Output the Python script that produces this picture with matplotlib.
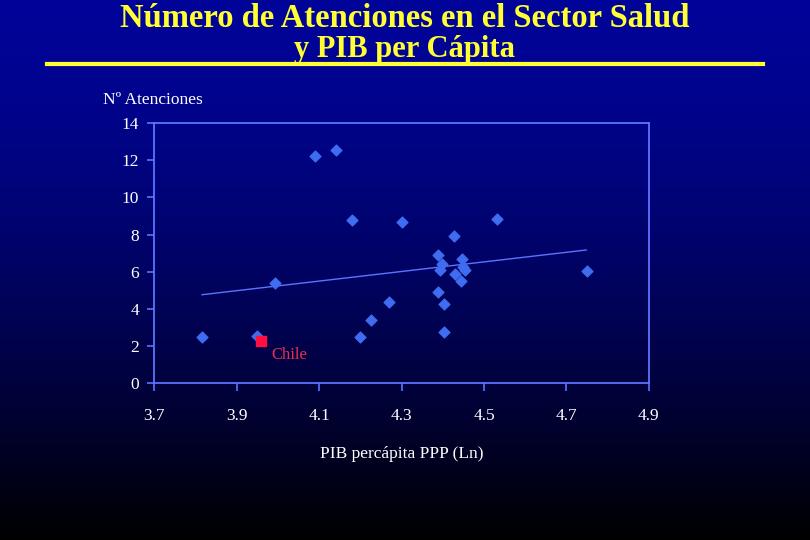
import numpy as np
import matplotlib
matplotlib.use("Agg")
import matplotlib.pyplot as plt

# PIB per capita (Ln) y numero de atenciones por pais
pib_ln = [3.815, 3.948, 3.993, 4.091, 4.140, 4.179, 4.199, 4.227, 4.270, 4.302,
          4.388, 4.399, 4.394, 4.388, 4.402, 4.402, 4.427, 4.430, 4.446, 4.444,
          4.449, 4.455, 4.531, 4.750]
atenciones = [2.50, 2.53, 5.39, 12.22, 12.56, 8.79, 2.50, 3.40, 4.35, 8.66,
              6.88, 6.40, 6.08, 4.91, 4.27, 2.77, 7.92, 5.88, 6.68, 5.51,
              6.27, 6.08, 8.86, 6.05]

chile_x = [3.959]
chile_y = [2.26]

# linea de tendencia (extremos)
trend_x = [3.816, 4.748]
trend_y = [4.76, 7.17]

x_ticks = [3.7, 3.9, 4.1, 4.3, 4.5, 4.7, 4.9]
y_ticks = [0, 2, 4, 6, 8, 10, 12, 14]

AXIS_COLOR = "#5b74ff"
POINT_COLOR = "#3f6cf0"
SERIF = ["Liberation Serif", "DejaVu Serif"]

fig = plt.figure(figsize=(8.1, 5.4), dpi=100)

# fondo degradado azul -> negro
bg = fig.add_axes([0, 0, 1, 1], zorder=-10)
t = np.linspace(0, 1, 540).reshape(-1, 1)
k = 1 - t ** 1.5
img = np.dstack([np.zeros_like(k), 4 / 255 * k, 152 / 255 * k])
bg.imshow(img, aspect="auto", extent=[0, 1, 0, 1])
bg.axis("off")

# titulo y linea amarilla
fig.text(0.5, 0.95, "Número de Atenciones en el Sector Salud", ha="center", va="baseline",
         color="#ffff33", fontsize=23.5, fontweight="bold", family=SERIF)
fig.text(0.5, 0.895, "y PIB per Cápita", ha="center", va="baseline",
         color="#ffff33", fontsize=22, fontweight="bold", family=SERIF)
fig.add_artist(plt.Line2D([0.058, 0.942], [0.882, 0.882], color="#ffff33", lw=3))

ax = fig.add_axes([0.1905, 0.2907, 0.6105, 0.481])
ax.patch.set_alpha(0)

ax.plot(trend_x, trend_y, color=AXIS_COLOR, lw=1)
ax.scatter(pib_ln, atenciones, marker="D", s=30, color=POINT_COLOR, zorder=3)
ax.scatter(chile_x, chile_y, marker="s", s=60, color="#ff1040", zorder=4)
ax.text(chile_x[0] + 0.025, chile_y[0] - 0.75, "Chile", color="#e8304a",
        fontsize=12, family=SERIF, va="center")

ax.set_xlim(3.7, 4.9)
ax.set_ylim(0, 14)
ax.set_xticks(x_ticks)
ax.set_yticks(y_ticks)
ax.set_xticklabels([f"{v:.1f}" for v in x_ticks])
ax.set_yticklabels([str(v) for v in y_ticks])

for s in ax.spines.values():
    s.set_color(AXIS_COLOR)
    s.set_linewidth(1.3)
ax.tick_params(axis="x", colors=AXIS_COLOR, labelcolor="white", direction="out",
               length=6, width=1.2, pad=12, labelsize=12.5)
ax.tick_params(axis="y", colors=AXIS_COLOR, labelcolor="white", direction="out",
               length=5, width=1.2, pad=6, labelsize=12.5)
for lab in ax.get_xticklabels() + ax.get_yticklabels():
    lab.set_family(SERIF)

ax.set_xlabel("PIB percápita PPP (Ln)", color="white", fontsize=12.5,
              family=SERIF, labelpad=16)
fig.text(0.127, 0.815, "Nº Atenciones", color="white", fontsize=12.5,
         family=SERIF, ha="left", va="center")

fig.savefig("out.png", dpi=100)
